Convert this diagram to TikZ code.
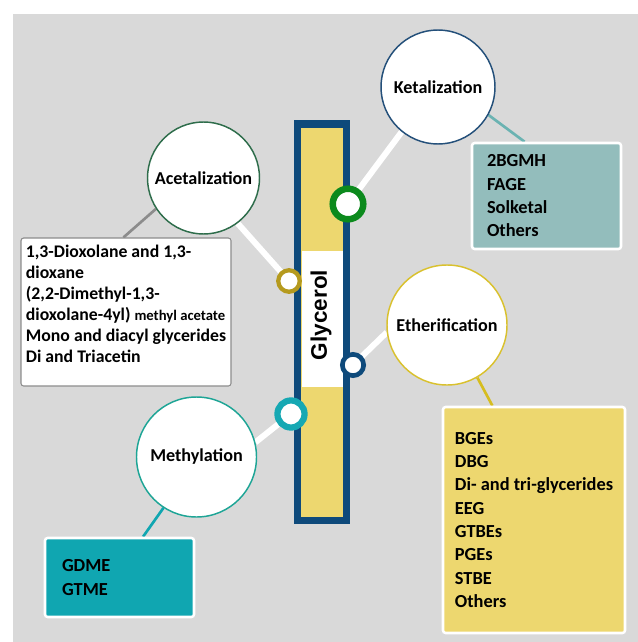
\documentclass[tikz,border=0pt]{standalone}
\usepackage{fontspec}
\setmainfont{Carlito}
\newfontfamily\glyfont{Liberation Sans}
\usepackage{tikz}
\definecolor{bggray}{HTML}{D9D9D9}
\definecolor{barblue}{HTML}{0E4A7B}
\definecolor{baryellow}{HTML}{EDD76F}
\definecolor{ringgreen}{HTML}{0C8A1D}
\definecolor{ringolive}{HTML}{B59A1E}
\definecolor{ringteal}{HTML}{16A8B3}
\definecolor{ketborder}{HTML}{24507A}
\definecolor{acetborder}{HTML}{2E6D4B}
\definecolor{etherborder}{HTML}{D9C12E}
\definecolor{methborder}{HTML}{1EA596}
\definecolor{ketfill}{HTML}{93BDBC}
\definecolor{ketline}{HTML}{6BB3B2}
\definecolor{acetline}{HTML}{8C8C8C}
\definecolor{etherline}{HTML}{D6BD1F}
\definecolor{methfill}{HTML}{10A6B1}
\pgfdeclarelayer{bg}
\pgfsetlayers{bg,main}

\begin{document}
\begin{tikzpicture}[x=0.75pt, y=-0.75pt,
  ring/.style={circle, draw=#1, fill=white, inner sep=0pt},
  proc/.style={circle, draw=#1, fill=white, line width=1.1pt, inner sep=0pt, font=\bfseries\fontsize{13.6}{16}\selectfont},
  prodbox/.style={rectangle, rounded corners=2pt, draw=white, line width=1.9pt, fill=#1, align=left, font=\bfseries\fontsize{13.8}{17.5}\selectfont},
  link/.style={white, line width=4.5pt},
  lead/.style={line width=2pt, draw=#1}]
\useasboundingbox (0,0) rectangle (638,642);
\begin{pgfonlayer}{bg}
\fill[bggray] (13,14) rectangle (638,642);
\end{pgfonlayer}

\node[draw=barblue, fill=baryellow, line width=5.6pt, minimum width=36.4pt, minimum height=297.2pt, inner sep=0pt] (bar) at (322,322.2) {};
\node[fill=white, minimum width=30.75pt, minimum height=102pt, inner sep=0pt] (label) at (322.5,319) {};
\node[rotate=90, font=\glyfont\bfseries\fontsize{16.9}{20}\selectfont] (glycerol) at (321,315) {Glycerol};

\node[ring=ringgreen, line width=4.9pt, minimum size=22.9pt] (gring) at (348,204) {};
\node[ring=ringolive, line width=3.2pt, minimum size=16.1pt] (oring) at (289,281) {};
\node[ring=barblue, line width=3.5pt, minimum size=16pt] (bring) at (353,365) {};
\node[ring=ringteal, line width=4.7pt, minimum size=20.3pt] (tring) at (291,414) {};

\node[proc=ketborder, minimum size=85.5pt] (keta) at (438,87) {Ketalization};
\node[proc=acetborder, minimum size=84pt] (acet) at (203.5,178) {Acetalization};
\node[proc=etherborder, minimum size=90pt] (ether) at (447,325) {Etherification};
\node[proc=methborder, minimum size=90pt] (meth) at (196.5,457) {Methylation};

\node[prodbox=ketfill, text width=89.25pt, inner xsep=11.25pt, minimum height=79.5pt] (ketbox) at (546.5,196) {2BGMH\\FAGE\\Solketal\\Others};
\node[prodbox=white, draw=acetline, line width=0.8pt, minimum width=157.5pt, minimum height=111pt, text depth=12pt, font=\bfseries\fontsize{13.3}{15.8}\selectfont] (acetbox) at (126,312) {1,3-Dioxolane and 1,3-\\dioxane\\(2,2-Dimethyl-1,3-\\dioxolane-4yl) {\fontsize{11}{13}\selectfont methyl acetate}\\Mono and diacyl glycerides\\Di and Triacetin};
\node[prodbox=baryellow, minimum width=136.5pt, minimum height=169.5pt] (etherbox) at (534,520) {BGEs\\DBG\\Di- and tri-glycerides\\EEG\\GTBEs\\PGEs\\STBE\\Others};
\node[prodbox=methfill, text width=86.25pt, inner xsep=12.75pt, minimum height=59.25pt] (methbox) at (119.5,577.5) {GDME\\GTME};

\begin{pgfonlayer}{bg}
\draw[link] (gring.center) -- (keta.231);
\draw[link] (oring.center) -- (acet.307);
\draw[link] (bring.center) -- (ether.187);
\draw[link] (tring.center) -- (meth.14);
\draw[lead=ketline] (keta.331) -- (ketbox.112);
\draw[lead=acetline] (acet.213) -- (acetbox.92);
\draw[lead=etherline] (ether.300) -- (etherbox.110);
\draw[lead=methfill] (meth.237) -- (methbox.60);
\end{pgfonlayer}
\end{tikzpicture}
\end{document}
